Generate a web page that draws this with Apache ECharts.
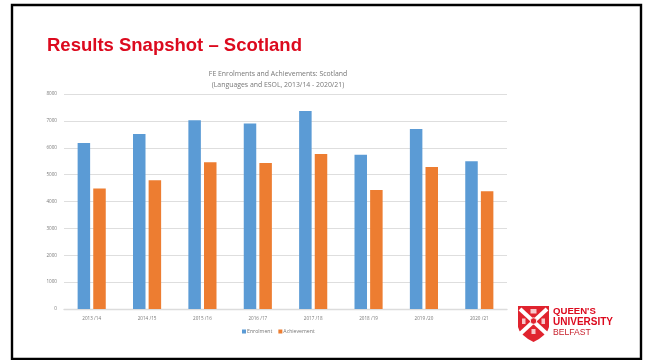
<!DOCTYPE html>
<html><head><meta charset="utf-8">
<style>html,body{margin:0;padding:0;background:#fff}#c{width:646px;height:360px}</style>
<script src="https://cdn.jsdelivr.net/npm/echarts@6/dist/echarts.min.js"></script>
</head><body><div id="c"></div>
<script>
const categories = ["2013 /14","2014 /15","2015 /16","2016 /17","2017 /18","2018 /19","2019 /20","2020 /21"];
const enrolment = [6180,6510,7020,6900,7370,5740,6700,5500];
const achievement = [4485,4790,5460,5430,5770,4430,5280,4380];
const seriesNames = ["Enrolment","Achievement"];
const red = "#dc0a1e";
const chart = echarts.init(document.getElementById('c'),null,{renderer:'canvas'});
chart.setOption({
  animation:false,
  backgroundColor:'#fff',
  title:{text:"FE Enrolments and Achievements: Scotland\n(Languages and ESOL, 2013/14 - 2020/21)",
    left:273,top:64,textAlign:'center',
    textStyle:{fontFamily:'"Open Sans"',fontSize:6.9,fontWeight:'normal',color:'#777',lineHeight:11}},
  legend:{data:seriesNames,top:324,left:237,itemWidth:4,itemHeight:4,itemGap:6,icon:'rect',
    textStyle:{fontFamily:'"Open Sans"',fontSize:5.2,color:'#777',padding:[0,0,0,-4]}},
  grid:{left:64,right:139,top:94,bottom:51},
  xAxis:{type:'category',data:categories,
    axisLine:{lineStyle:{color:'#dcdcdc',width:1.4}},axisTick:{show:false},
    axisLabel:{fontFamily:'"Open Sans"',fontSize:4.6,color:'#777',margin:7}},
  yAxis:{type:'value',min:0,max:8000,interval:1000,
    axisLine:{show:false},axisTick:{show:false},
    axisLabel:{fontFamily:'"Open Sans"',fontSize:4.6,color:'#777',margin:7,formatter:v=>String(v)},
    splitLine:{lineStyle:{color:'#dedede',width:1.2}}},
  series:[
    {name:seriesNames[0],type:'bar',data:enrolment,barWidth:12.5,barGap:'25%',itemStyle:{color:'#5b9bd5'}},
    {name:seriesNames[1],type:'bar',data:achievement,barWidth:12.5,barGap:'25%',itemStyle:{color:'#ed7d31'}}
  ],
  graphic:[
    {type:'rect',z:10,shape:{x:12,y:5,width:629,height:354},style:{fill:'none',stroke:'#000',lineWidth:2.4},silent:true},
    {type:'text',z:10,x:47,y:36.5,style:{text:"Results Snapshot – Scotland",fill:red,font:'bold 18.5px "Liberation Sans"'}},
    {type:'polygon',z:10,shape:{points:[[518,306],[549,306],[549,327],[547.5,331],[544,335],[539,339],[533.5,342],[528,339],[523,335],[519.5,331],[518,327]]},style:{fill:'#e0232e'}},
    {type:'line',z:11,shape:{x1:520,y1:309,x2:547,y2:334},style:{stroke:'#fff',lineWidth:4}},
    {type:'line',z:11,shape:{x1:547,y1:309,x2:520,y2:334},style:{stroke:'#fff',lineWidth:4}},
    {type:'circle',z:12,shape:{cx:533.5,cy:321,r:3.2},style:{fill:'#e0232e',stroke:'#fff',lineWidth:0.8}},
    {type:'rect',z:12,shape:{x:530.5,y:309,width:6,height:4.5},style:{fill:'#fff',opacity:0.75}},
    {type:'rect',z:12,shape:{x:522,y:318.5,width:3.5,height:5.5},style:{fill:'#fff',opacity:0.75}},
    {type:'rect',z:12,shape:{x:541.5,y:318.5,width:3.5,height:5.5},style:{fill:'#fff',opacity:0.75}},
    {type:'rect',z:12,shape:{x:531.5,y:329,width:4,height:5},style:{fill:'#fff',opacity:0.75}},
    {type:'text',z:10,x:553,y:306.5,style:{text:"QUEEN'S",fill:red,font:'bold 9.6px "Liberation Sans"'}},
    {type:'text',z:10,x:553,y:317,style:{text:"UNIVERSITY",fill:red,font:'bold 10px "Liberation Sans"'}},
    {type:'text',z:10,x:553,y:328,style:{text:"BELFAST",fill:'#c8202c',font:'8.6px "Liberation Sans"'}}
  ]
});
</script></body></html>
